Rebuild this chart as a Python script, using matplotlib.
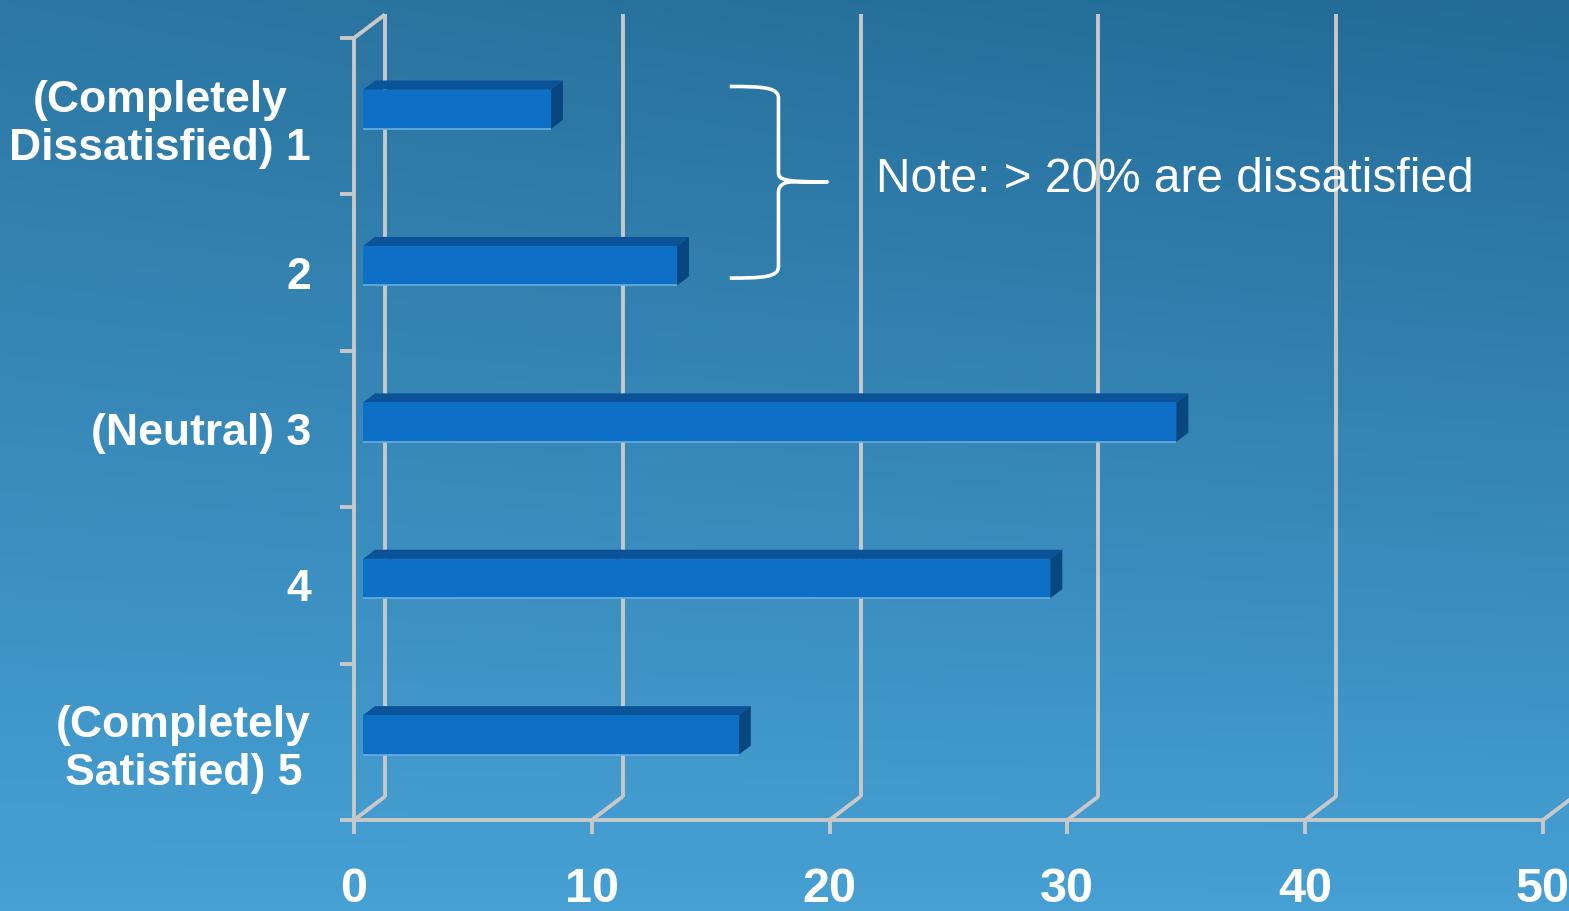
import numpy as np
import matplotlib
matplotlib.use("Agg")
import matplotlib.pyplot as plt
from matplotlib.patches import Polygon, PathPatch
from matplotlib.path import Path

# ---- data -------------------------------------------------------------
ratings = ["(Completely\nDissatisfied) 1", "2", "(Neutral) 3", "4",
           "(Completely\nSatisfied) 5"]
percent = [7.9, 13.2, 34.2, 28.9, 15.8]
x_ticks = [0, 10, 20, 30, 40, 50]
note_text = "Note: > 20% are dissatisfied"

# ---- styling ------------------------------------------------------------
FONT = "Liberation Sans"
GRID = "#C8C8C8"
FRONT = "#0E6FC6"
TOP = "#0B5399"
SIDE = "#084680"
EDGE = "#6AAEE0"

W, H = 1569, 911
fig = plt.figure(figsize=(W / 100, H / 100), dpi=100)

# gradient backdrop
bg = fig.add_axes([0, 0, 1, 1], zorder=-10)
bg.axis("off")
ny, nx = 256, 256
t = np.linspace(0, 1, ny)[:, None, None]
s = np.linspace(0, 1, nx)[None, :, None]
top_left = np.array([44, 119, 163]) / 255
top_right = np.array([35, 106, 150]) / 255
bottom = np.array([70, 160, 212]) / 255
top_row = top_left * (1 - s) + top_right * s
img = top_row * (1 - t) + bottom * t
bg.imshow(img, aspect="auto", extent=[0, 1, 0, 1], origin="upper")
bg.set_xlim(0, 1)
bg.set_ylim(0, 1)

# front plane of the chart
ax = fig.add_axes([354 / W, (H - 820) / H, (1543 - 354) / W, (820 - 38) / H])
ax.set_xlim(x_ticks[0], x_ticks[-1])
n = len(ratings)
ax.set_ylim(n, 0)
ax.patch.set_alpha(0)

# depth vector of the pseudo-3D box, expressed in data units
p0 = ax.transData.transform((0, 0))
p1 = ax.transData.transform((1, 1))
ux, uy = p1[0] - p0[0], p1[1] - p0[1]
DX = 31 / ux
DY = 23.5 / uy


def P(x, y, d):
    return (x + d * DX, y + d * DY)


def seg(a, b, **kw):
    ax.plot([a[0], b[0]], [a[1], b[1]], clip_on=False,
            solid_capstyle="butt", **kw)


# back wall gridlines and floor diagonals
for xv in x_ticks:
    seg(P(xv, 0, 1), P(xv, n, 1), color=GRID, lw=2.8, zorder=1)
    seg(P(xv, n, 0), P(xv, n, 1), color=GRID, lw=2.8, zorder=1)
seg(P(0, 0, 0), P(0, 0, 1), color=GRID, lw=2.8, zorder=1)

# bars (front, top and side faces)
centers = np.arange(n) + 0.5
hh = 0.126
da, db = 0.29, 0.68
for c, v in zip(centers, percent):
    y0, y1 = c - hh, c + hh
    front = [P(0, y0, da), P(v, y0, da), P(v, y1, da), P(0, y1, da)]
    top = [P(0, y0, da), P(v, y0, da), P(v, y0, db), P(0, y0, db)]
    side = [P(v, y0, da), P(v, y1, da), P(v, y1, db), P(v, y0, db)]
    ax.add_patch(Polygon(top, closed=True, fc=TOP, ec="none", zorder=3,
                         clip_on=False))
    ax.add_patch(Polygon(side, closed=True, fc=SIDE, ec="none", zorder=3,
                         clip_on=False))
    ax.add_patch(Polygon(front, closed=True, fc=FRONT, ec="none", zorder=4,
                         clip_on=False))
    seg(P(0, y1, da), P(v, y1, da), color=EDGE, lw=1.2, zorder=5)

# axes lines and ticks
for side_name in ("top", "right"):
    ax.spines[side_name].set_visible(False)
for side_name in ("left", "bottom"):
    ax.spines[side_name].set_color(GRID)
    ax.spines[side_name].set_linewidth(2.8)
    ax.spines[side_name].set_zorder(2)

ax.set_xticks(x_ticks)
ax.set_xticklabels([str(v) for v in x_ticks], fontsize=35, fontweight="bold",
                   color="white", family=FONT)
ax.set_yticks(np.arange(n + 1))
ax.set_yticklabels([])
ax.set_yticks(centers, minor=True)
ax.set_yticklabels(ratings, minor=True, fontsize=32, fontweight="bold",
                   color="white", family=FONT)
for lbl in ax.get_yticklabels(minor=True):
    lbl.set_multialignment("center")
    lbl.set_linespacing(1.22)
ax.tick_params(axis="both", which="major", direction="out", length=10,
               width=2.8, color=GRID)
ax.tick_params(axis="x", which="major", pad=24)
ax.tick_params(axis="y", which="minor", length=0, pad=31)

# brace grouping the two lowest ratings
bx0, bx1, bx2 = 15.8, 17.85, 19.9
by0, bym, by1 = 0.31, 0.92, 1.535
r = 0.075
verts = [
    (bx0, by0),
    (bx0 + 1.4, by0), (bx1, by0 + 0.005), (bx1, by0 + r),
    (bx1, bym - 0.06),
    (bx1, bym - 0.01), (bx1 + 0.3, bym), (bx2, bym),
    (bx1 + 0.5, bym),
    (bx1 + 0.15, bym + 0.005), (bx1, bym + 0.03), (bx1, bym + 0.07),
    (bx1, by1 - r),
    (bx1, by1 - 0.005), (bx0 + 1.4, by1), (bx0, by1),
]
codes = [Path.MOVETO,
         Path.CURVE4, Path.CURVE4, Path.CURVE4,
         Path.LINETO,
         Path.CURVE4, Path.CURVE4, Path.CURVE4,
         Path.LINETO,
         Path.CURVE4, Path.CURVE4, Path.CURVE4,
         Path.LINETO,
         Path.CURVE4, Path.CURVE4, Path.CURVE4]
ax.add_patch(PathPatch(Path(verts, codes), fc="none", ec="white", lw=2.6,
                       zorder=6, clip_on=False, capstyle="butt",
                       joinstyle="round"))

ax.text(21.95, 0.985, note_text, fontsize=34.5, color="white", family=FONT,
        ha="left", va="baseline", zorder=6)

fig.savefig("out.png", dpi=100)
